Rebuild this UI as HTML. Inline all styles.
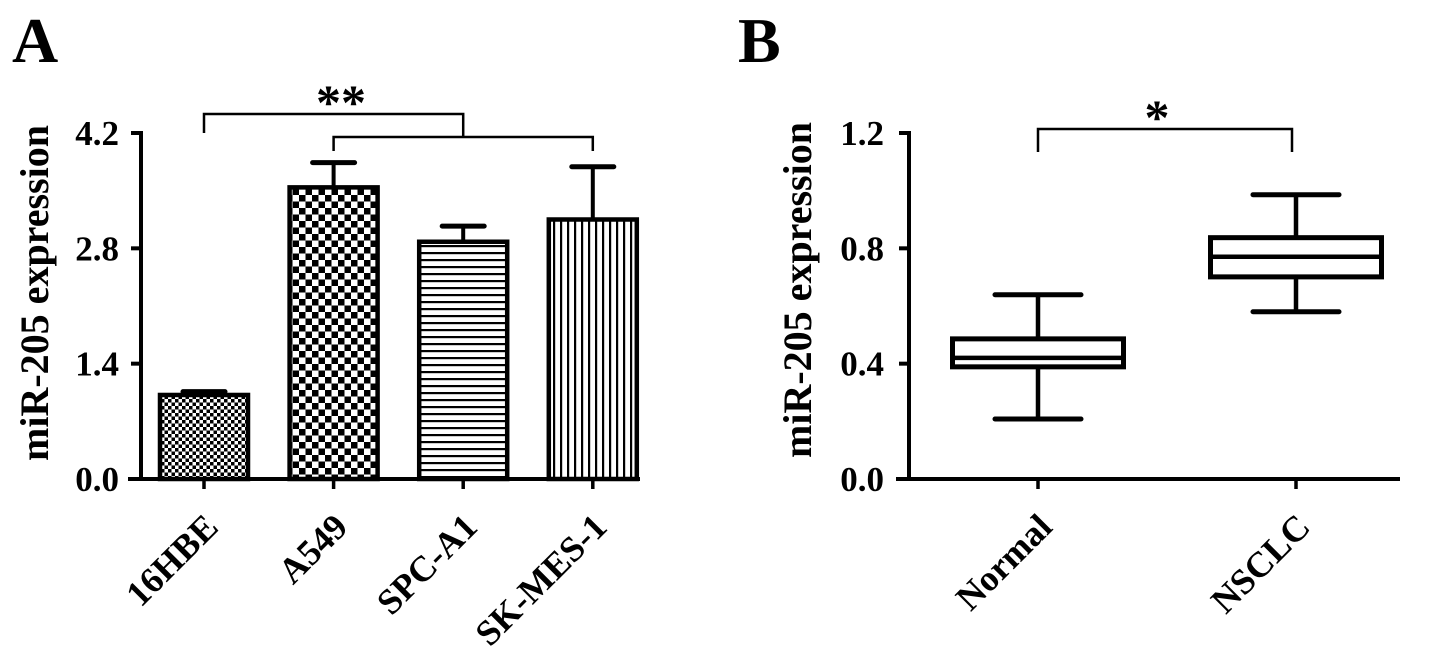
<!DOCTYPE html>
<html><head><meta charset="utf-8"><style>
html,body{margin:0;padding:0;background:#fff}
svg{display:block}
text{font-family:"Liberation Serif",serif;font-weight:bold;fill:#000}
</style></head><body>
<svg id="chart" width="1441" height="660" viewBox="0 0 1441 660" xmlns="http://www.w3.org/2000/svg">
<defs>
<pattern id="pFine" width="7" height="7" patternUnits="userSpaceOnUse"><rect width="7" height="7" fill="#fff"/><rect width="3.5" height="3.5" fill="#000"/><rect x="3.5" y="3.5" width="3.5" height="3.5" fill="#000"/></pattern>
<pattern id="pCheck" width="13" height="13" patternUnits="userSpaceOnUse"><rect width="13" height="13" fill="#fff"/><rect width="6.5" height="6.5" fill="#000"/><rect x="6.5" y="6.5" width="6.5" height="6.5" fill="#000"/></pattern>
<pattern id="pHoriz" width="8" height="7" patternUnits="userSpaceOnUse"><rect width="8" height="7" fill="#fff"/><rect width="8" height="2.2" fill="#000"/></pattern>
<pattern id="pVert" width="7" height="8" patternUnits="userSpaceOnUse"><rect width="7" height="8" fill="#fff"/><rect width="2.2" height="8" fill="#000"/></pattern>
</defs>
<text x="12" y="62" font-size="64">A</text>
<text x="738" y="62" font-size="64">B</text>
<g id="gA"></g><g id="gB"></g>
</svg>
<script>
const NS="http://www.w3.org/2000/svg";
const barCats=["16HBE","A549","SPC-A1","SK-MES-1"];
const barMeans=[1.02,3.54,2.88,3.15];
const barErr=[0.04,0.30,0.19,0.64];
const barFills=["url(#pFine)","url(#pCheck)","url(#pHoriz)","url(#pVert)"];
const aTicks=[0.0,1.4,2.8,4.2];
const boxCats=["Normal","NSCLC"];
const boxMin=[0.208,0.58];
const boxQ1=[0.389,0.701];
const boxMed=[0.42,0.771];
const boxQ3=[0.486,0.837];
const boxMax=[0.639,0.986];
const bTicks=[0.0,0.4,0.8,1.2];

function el(parent,tag,attrs,txt){const e=document.createElementNS(NS,tag);for(const k in attrs)e.setAttribute(k,attrs[k]);if(txt!==undefined)e.textContent=txt;parent.appendChild(e);return e;}
let e;

// Panel A
const gA=document.getElementById('gA');
const ayZero=479, ayTop=133, aMax=4.2;
const aY=v=>ayZero-(v/aMax)*(ayZero-ayTop);
const aX=i=>204+i*129.6;
const aAxisX=141;
e=el(gA,'line',{x1:aAxisX,y1:ayTop-2,x2:aAxisX,y2:ayZero+2,stroke:'#000','stroke-width':4});

e=el(gA,'line',{x1:128,y1:ayZero,x2:640,y2:ayZero,stroke:'#000','stroke-width':4});

aTicks.forEach(t=>{
  el(gA,'line',{x1:131,y1:aY(t),x2:aAxisX,y2:aY(t),stroke:'#000','stroke-width':4});
  e=el(gA,'text',{x:119,y:aY(t)+12,'font-size':35,'text-anchor':'end'},t.toFixed(1));
  
});
e=el(gA,'text',{x:0,y:0,'font-size':40,'text-anchor':'middle',transform:'translate(48,293) rotate(-90)'},'miR-205 expression');

barCats.forEach((c,i)=>{
  const cx=aX(i),w=88;
  const top=aY(barMeans[i]+barErr[i]);
  e=el(gA,'line',{x1:cx,y1:top,x2:cx,y2:aY(barMeans[i]),stroke:'#000','stroke-width':4});
  
  el(gA,'line',{x1:cx-21,y1:top,x2:cx+21,y2:top,stroke:'#000','stroke-width':5,'stroke-linecap':'round'});
  e=el(gA,'rect',{x:cx-w/2,y:aY(barMeans[i]),width:w,height:ayZero-aY(barMeans[i]),fill:barFills[i],stroke:'#000','stroke-width':4.5});
  
  el(gA,'line',{x1:cx,y1:ayZero,x2:cx,y2:ayZero+10,stroke:'#000','stroke-width':3.5});
  e=el(gA,'text',{x:0,y:0,'font-size':36,'text-anchor':'end',transform:`translate(${cx+16},${ayZero+50}) rotate(-45)`},c);
  
});
e=el(gA,'path',{d:`M${aX(0)},133 V114 H${aX(2)} V137 M${aX(1)},151 V137 H${aX(3)} V151`,fill:'none',stroke:'#000','stroke-width':2.5});

e=el(gA,'text',{x:341,y:119,'font-size':50,'text-anchor':'middle'},'**');


// Panel B
const gB=document.getElementById('gB');
const byZero=479, byTop=133, bMax=1.2;
const bY=v=>byZero-(v/bMax)*(byZero-byTop);
const bX=i=>1038+i*258;
const bAxisX=909;
e=el(gB,'line',{x1:bAxisX,y1:byTop-2,x2:bAxisX,y2:byZero+2,stroke:'#000','stroke-width':4});

e=el(gB,'line',{x1:896,y1:byZero,x2:1400,y2:byZero,stroke:'#000','stroke-width':4});

bTicks.forEach(t=>{
  el(gB,'line',{x1:899,y1:bY(t),x2:bAxisX,y2:bY(t),stroke:'#000','stroke-width':4});
  e=el(gB,'text',{x:884,y:bY(t)+12,'font-size':35,'text-anchor':'end'},t.toFixed(1));
  
});
e=el(gB,'text',{x:0,y:0,'font-size':40,'text-anchor':'middle',transform:'translate(811,290) rotate(-90)'},'miR-205 expression');

boxCats.forEach((c,i)=>{
  const cx=bX(i),w=171;
  e=el(gB,'line',{x1:cx,y1:bY(boxMax[i]),x2:cx,y2:bY(boxMin[i]),stroke:'#000','stroke-width':4.5});
  
  [boxMax[i],boxMin[i]].forEach(v=>el(gB,'line',{x1:cx-43,y1:bY(v),x2:cx+43,y2:bY(v),stroke:'#000','stroke-width':5,'stroke-linecap':'round'}));
  e=el(gB,'rect',{x:cx-w/2,y:bY(boxQ3[i]),width:w,height:bY(boxQ1[i])-bY(boxQ3[i]),fill:'#fff',stroke:'#000','stroke-width':5});
  
  e=el(gB,'line',{x1:cx-w/2,y1:bY(boxMed[i]),x2:cx+w/2,y2:bY(boxMed[i]),stroke:'#000','stroke-width':4.5});
  
  el(gB,'line',{x1:cx,y1:byZero,x2:cx,y2:byZero+10,stroke:'#000','stroke-width':3.5});
  e=el(gB,'text',{x:0,y:0,'font-size':36,'text-anchor':'end',transform:`translate(${cx+16},${byZero+50}) rotate(-45)`},c);
  
});
e=el(gB,'path',{d:`M${bX(0)},152 V129 H${bX(1)-4} V152`,fill:'none',stroke:'#000','stroke-width':2.5});

e=el(gB,'text',{x:1157,y:134,'font-size':50,'text-anchor':'middle'},'*');

</script>
</body></html>
